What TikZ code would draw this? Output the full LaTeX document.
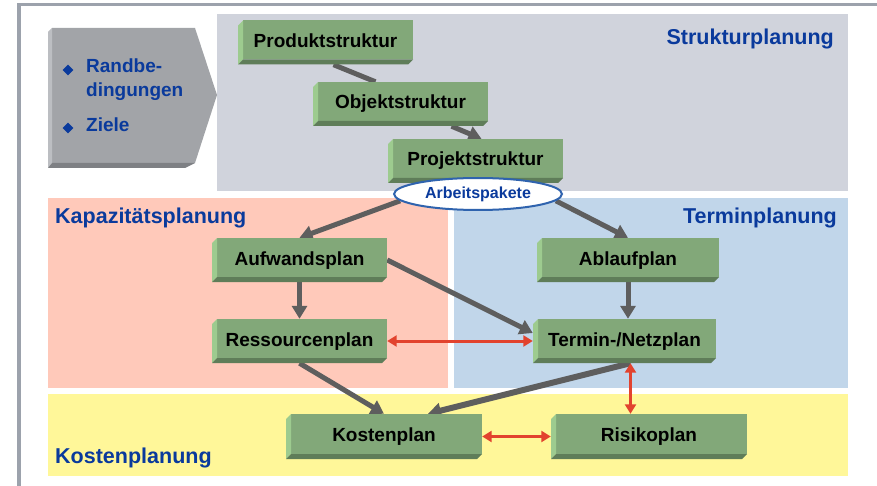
\documentclass[tikz,border=0pt]{standalone}
\usepackage{fontspec}
\setmainfont{Liberation Sans}
\usetikzlibrary{arrows.meta,shapes.geometric}

\definecolor{titleblue}{HTML}{0A3A9C}
\definecolor{structgray}{HTML}{D0D3DC}
\definecolor{capred}{HTML}{FFC9BA}
\definecolor{timeblue}{HTML}{C1D6EA}
\definecolor{costyellow}{HTML}{FFF799}
\definecolor{planfront}{HTML}{82A879}
\definecolor{planleft}{HTML}{9DCB8F}
\definecolor{planbottom}{HTML}{5F7D59}
\definecolor{framegray}{HTML}{9CA2AC}
\definecolor{arrowgray}{HTML}{5E5E5E}
\definecolor{arrowred}{HTML}{E2432E}
\definecolor{ovalblue}{HTML}{2F63AE}
\definecolor{condgray}{HTML}{A2A4A8}
\definecolor{condlight}{HTML}{BCBEC2}
\definecolor{conddark}{HTML}{7E8084}

\pgfdeclarelayer{regions}
\pgfdeclarelayer{links}
\pgfsetlayers{regions,links,main}

\begin{document}
\begin{tikzpicture}[x=1pt, y=-1pt,
    plan/.style={rectangle, minimum width=175pt, minimum height=44pt, inner sep=0pt,
        text height=14pt, text depth=4pt, font=\fontsize{19}{22}\selectfont\bfseries,
        path picture={
            \fill[planfront] ([xshift=5pt]path picture bounding box.north west) rectangle ([yshift=5pt]path picture bounding box.south east);
            \fill[planleft] ([yshift=-5pt]path picture bounding box.north west) -- ([xshift=5pt]path picture bounding box.north west)
                -- ([xshift=5pt, yshift=5pt]path picture bounding box.south west) -- (path picture bounding box.south west) -- cycle;
            \fill[planbottom] (path picture bounding box.south west) -- ([xshift=5pt, yshift=5pt]path picture bounding box.south west)
                -- ([yshift=5pt]path picture bounding box.south east) -- ([xshift=-5pt]path picture bounding box.south east) -- cycle;
        }},
    flow/.style={arrowgray, line width=5pt, -{Triangle[length=13pt, width=15pt]}},
    link/.style={arrowred, line width=3pt, {Triangle[length=9.5pt, width=11pt]}-{Triangle[length=9.5pt, width=11pt]}},
    area/.style={font=\fontsize{21.5}{24}\selectfont\bfseries, text=titleblue, inner sep=0pt},
    bullet/.style={diamond, fill=titleblue, minimum size=11pt, inner sep=0pt}]
    \useasboundingbox (0,0) rectangle (877,486);

    \begin{pgfonlayer}{regions}
        \draw[framegray, line width=3.5pt] (877,4.5) -- (19,4.5) -- (19,486);
        \fill[structgray] (217,14) rectangle (848,191);
        \fill[capred] (48,198) rectangle (448,388);
        \fill[timeblue] (454,198) rectangle (848,388);
        \fill[costyellow] (48,394) rectangle (848,476);
    \end{pgfonlayer}

    \fill[condgray] (52,28) -- (195,28) -- (217,95) -- (195,163) -- (52,163) -- cycle;
    \fill[condlight] (48,32) -- (52,28) -- (52,163) -- (48,168) -- cycle;
    \fill[conddark] (48,168) -- (52,163) -- (195,163) -- (185,168) -- cycle;
    \node[bullet] (b1) at (68,70) {};
    \node[bullet] (b2) at (68,128) {};
    \node[area, font=\fontsize{19}{24}\selectfont\bfseries, align=left, anchor=north west] (rand) at (86,59) {Randbe-\\dingungen};
    \node[area, font=\fontsize{19}{24}\selectfont\bfseries, anchor=base west] (ziele) at (86,132) {Ziele};

    \node[area, anchor=base east] (tstruct) at (834,45) {Strukturplanung};
    \node[area, anchor=base west] (tcap) at (55,223) {Kapazitätsplanung};
    \node[area, anchor=base east] (ttime) at (837,223) {Terminplanung};
    \node[area, anchor=base west] (tcost) at (55,463) {Kostenplanung};

    \node[plan] (prod) at (325.5,42.5) {Produktstruktur};
    \node[plan] (obj) at (400.5,104) {Objektstruktur};
    \node[plan] (proj) at (475.5,161) {Projektstruktur};
    \node[plan] (aufw) at (299.5,260) {Aufwandsplan};
    \node[plan, minimum width=182pt] (ablauf) at (628,260) {Ablaufplan};
    \node[plan] (ress) at (299.5,341) {Ressourcenplan};
    \node[plan, minimum width=183pt] (termin) at (624.5,341) {Termin-/Netzplan};
    \node[plan, minimum width=196pt, minimum height=45pt] (kosten) at (384,436.5) {Kostenplan};
    \node[plan, minimum width=196pt, minimum height=45pt] (risiko) at (649,436.5) {Risikoplan};
    \node[ellipse, draw=ovalblue, line width=2pt, fill=white, minimum width=168pt, minimum height=32pt, inner sep=0pt,
        font=\fontsize{16}{18}\selectfont\bfseries, text=titleblue] (ap) at (478,194) {Arbeitspakete};

    \begin{pgfonlayer}{links}
        \draw[arrowgray, line width=5pt] ([xshift=8pt]prod.south) -- ([xshift=-25pt]obj.north);
        \draw[flow] ([xshift=51pt]obj.south) -- ([xshift=6pt]proj.north);
        \draw[flow] (ap.185) -- (aufw.north);
        \draw[flow] (ap.-5) -- (ablauf.north);
        \draw[flow] (aufw.south) -- (ress.north);
        \draw[flow] (aufw.east) -- ([yshift=8pt]termin.west);
        \draw[flow] (ablauf.south) -- (ablauf.south |- termin.north);
        \draw[flow] (ress.south) -- (kosten.north);
        \draw[flow, line width=6pt] ([xshift=6pt]termin.south) -- ([xshift=44pt]kosten.north);
        \draw[link] (ress.east) -- (termin.west);
        \draw[link] ([xshift=6pt]termin.south) -- ([xshift=6pt]termin.south |- risiko.north);
        \draw[link] (kosten.east) -- (risiko.west);
    \end{pgfonlayer}
\end{tikzpicture}
\end{document}
